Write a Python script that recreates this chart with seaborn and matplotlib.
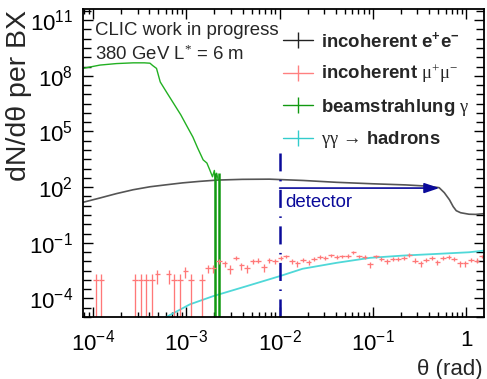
import numpy as np
import pandas as pd
import matplotlib
matplotlib.use("Agg")
import matplotlib.pyplot as plt
from matplotlib.lines import Line2D
from matplotlib.ticker import FixedLocator, FixedFormatter, NullFormatter
import seaborn as sns

# ---------------------------------------------------------------------------
# Data: dN/dtheta per bunch crossing, stored as log10(theta) / log10(rate)
# ---------------------------------------------------------------------------
# incoherent e+e- pairs
ee_logtheta = [-4.11, -3.93, -3.75, -3.57, -3.39, -3.21, -3.04, -2.86, -2.67, -2.40,
               -2.11, -1.75, -1.39, -1.00, -0.65, -0.40, -0.29, -0.235, -0.18, -0.14,
               -0.107, -0.06, 0.03, 0.10, 0.17, 0.19]
ee_lograte = [1.18, 1.41, 1.65, 1.86, 2.02, 2.13, 2.23, 2.31, 2.38, 2.42,
              2.43, 2.36, 2.26, 2.18, 2.12, 2.05, 1.97, 1.70, 1.32, 0.95,
              0.73, 0.62, 0.54, 0.53, 0.56, 0.57]

# beamstrahlung photons
bs_logtheta = [-4.11, -3.925, -3.75, -3.57, -3.45, -3.39, -3.36, -3.32, -3.28, -3.21,
               -3.14, -3.06, -2.99, -2.93, -2.88, -2.82, -2.78, -2.75, -2.72, -2.70,
               -2.69, -2.675, -2.66]
bs_lograte = [8.40, 8.58, 8.66, 8.70, 8.70, 8.68, 8.55, 8.40, 7.67, 7.10,
              6.54, 5.90, 5.25, 4.70, 4.12, 3.47, 3.30, 2.94, 2.56, 2.90,
              2.45, 2.75, 2.40]
# last beamstrahlung bins with errors reaching zero
bs_spike_logtheta = [-2.69, -2.647]
bs_spike_rate = [280.0, 280.0]

# incoherent mu+mu- pairs, 70 log bins in theta (None = empty bin)
mumu_rate = [1.0e-3, 1.0e-3, None, None, None, None, None, 1.0e-3, 1.0e-3, 1.0e-3,
             1.0e-3, 2.0e-3, None, 2.0e-3, 1.0e-3, 1.0e-3, 3.0e-3, 1.0e-3, None, 1.0e-3,
             4.5e-3, 4.5e-3, 1.0e-2, 8.0e-3, 4.0e-3, 1.5e-2, 6.0e-3, 4.5e-3, 1.0e-2, 1.1e-2,
             5.0e-3, 1.2e-2, 1.0e-2, 1.5e-2, 1.9e-2, 1.0e-2, 8.0e-3, 1.25e-2, 9.0e-3, 1.4e-2,
             1.7e-2, 1.5e-2, 2.1e-2, 1.7e-2, 1.9e-2, 2.0e-2, 3.1e-2, 1.9e-2, 1.75e-2, 7.0e-3,
             1.9e-2, 1.4e-2, 1.0e-2, 1.4e-2, 1.4e-2, 1.5e-2, 2.3e-2, 1.1e-2, 8.0e-3, 1.25e-2,
             1.5e-2, 9.0e-3, 1.5e-2, 1.75e-2, 1.4e-2, 8.0e-3, 8.0e-3, 1.25e-2, 1.1e-2, 1.9e-2]
mumu_log_edges = (-4.0, 0.2)
mumu_unit = 1.0e-3          # rate carried by a single event

# gamma gamma -> hadrons
had_logtheta = [-3.23, -2.963, -2.713, -2.356, -2.0, -1.754, -1.39, -1.03, -0.68, -0.32,
                0.032, 0.19]
had_lograte = [-5.04, -4.32, -3.876, -3.34, -2.80, -2.40, -2.08, -1.81, -1.69, -1.60,
               -1.51, -1.42]

# detector acceptance marker
det_theta = 0.01
det_arrow_end = 0.514
det_arrow_rate = 89.0
det_line_top = 7.0e3

legend_labels = ["incoherent e$\\mathbf{^{+}}$e$\\mathbf{^{-}}$",
                 "incoherent $\\mathrm{\\mu^{+}\\mu^{-}}$",
                 "beamstrahlung $\\mathrm{\\gamma}$",
                 "$\\mathrm{\\gamma\\gamma\\,\\rightarrow\\,}$hadrons"]
x_ticks = [1e-4, 1e-3, 1e-2, 1e-1, 1.0]
x_tick_labels = ["$\\mathdefault{10^{-4}}$", "$\\mathdefault{10^{-3}}$",
                 "$\\mathdefault{10^{-2}}$", "$\\mathdefault{10^{-1}}$", "1"]
y_ticks = [1e-4, 1e-1, 1e2, 1e5, 1e8, 1e11]
y_tick_labels = ["$\\mathdefault{10^{-4}}$", "$\\mathdefault{10^{-1}}$",
                 "$\\mathdefault{10^{2}}$", "$\\mathdefault{10^{5}}$",
                 "$\\mathdefault{10^{8}}$", "$\\mathdefault{10^{11}}$"]

# ---------------------------------------------------------------------------
sns.set_theme(style="ticks")
plt.rcParams["font.family"] = ["Liberation Sans", "DejaVu Sans"]
plt.rcParams["mathtext.fontset"] = "custom"
plt.rcParams["mathtext.rm"] = "Liberation Serif"
plt.rcParams["mathtext.it"] = "Liberation Serif:italic"
plt.rcParams["mathtext.bf"] = "Liberation Sans:bold"
plt.rcParams["lines.scale_dashes"] = False

W, H = 487, 379
fig = plt.figure(figsize=(W / 100, H / 100), dpi=100)
fig.patch.set_facecolor("white")
ax = fig.add_axes([83 / W, 1 - 317 / H, 401 / W, 308 / H])
ax.set_facecolor("white")


def fx(px):
    return px / W


def fy(py):
    return 1 - py / H


c_ee = "#555555"
c_mumu = "#ff7878"
c_bs = "#22b022"
c_bs_dark = "#119911"
c_had = "#4fd8d8"
c_det = "#0a0a9a"

ee = pd.DataFrame({"theta": 10 ** np.array(ee_logtheta), "rate": 10 ** np.array(ee_lograte)})
bs = pd.DataFrame({"theta": 10 ** np.array(bs_logtheta), "rate": 10 ** np.array(bs_lograte)})
had = pd.DataFrame({"theta": 10 ** np.array(had_logtheta), "rate": 10 ** np.array(had_lograte)})

sns.lineplot(data=ee, x="theta", y="rate", ax=ax, color=c_ee, lw=1.2,
             estimator=None, sort=False, legend=False)
sns.lineplot(data=bs, x="theta", y="rate", ax=ax, color=c_bs, lw=1.0,
             estimator=None, sort=False, legend=False)
sns.lineplot(data=had, x="theta", y="rate", ax=ax, color=c_had, lw=1.3,
             estimator=None, sort=False, legend=False)

# beamstrahlung bins whose error bars reach down to zero
spike_x = 10 ** np.array(bs_spike_logtheta)
spike_y = np.array(bs_spike_rate)
ax.errorbar(spike_x, spike_y, yerr=[spike_y, spike_y], fmt="none",
            ecolor=c_bs_dark, elinewidth=1.8, capsize=0)

# mu+mu- histogram drawn as error crosses (Poisson errors)
edges = np.logspace(mumu_log_edges[0], mumu_log_edges[1], len(mumu_rate) + 1)
centers = np.sqrt(edges[:-1] * edges[1:])
keep = [i for i, v in enumerate(mumu_rate) if v is not None]
mx = centers[keep]
my = np.array([mumu_rate[i] for i in keep])
merr = np.sqrt(my * mumu_unit)
ax.errorbar(mx, my, xerr=[mx - edges[:-1][keep], edges[1:][keep] - mx],
            yerr=[np.minimum(merr, my), merr], fmt="none",
            ecolor=c_mumu, elinewidth=0.95, capsize=0)

ax.set_xscale("log")
ax.set_yscale("log")
ax.set_xlim(7.8e-5, 1.55)
ax.set_ylim(1e-5, 4e11)

# detector acceptance: dash-dot boundary and arrow
ax.plot([det_theta, det_theta], [1e-5, det_line_top], color=c_det, lw=1.8,
        dashes=[13, 6.1, 1.1, 6.1], solid_capstyle="butt", dash_capstyle="butt")
ax.annotate("", xy=(det_arrow_end, det_arrow_rate), xytext=(det_theta, det_arrow_rate),
            arrowprops=dict(arrowstyle="-|>,head_length=0.65,head_width=0.22",
                            color=c_det, lw=1.2, shrinkA=0, shrinkB=0,
                            mutation_scale=14))
fig.text(fx(285), fy(206.7), "detector", color=c_det, fontsize=13.4,
         ha="left", va="baseline")

# ticks
ax.xaxis.set_major_locator(FixedLocator(x_ticks))
ax.xaxis.set_major_formatter(FixedFormatter(x_tick_labels))
minor_x = [m * 10.0 ** e for e in range(-5, 1) for m in range(2, 10)]
ax.xaxis.set_minor_locator(FixedLocator(minor_x))
ax.xaxis.set_minor_formatter(NullFormatter())
ax.yaxis.set_major_locator(FixedLocator(y_ticks))
ax.yaxis.set_major_formatter(FixedFormatter(y_tick_labels))
ax.yaxis.set_minor_locator(FixedLocator(10 ** np.arange(-5, 12, 0.5)))
ax.yaxis.set_minor_formatter(NullFormatter())
ax.tick_params(which="both", direction="in", top=True, right=True, color="black",
               labelsize=16, labelcolor="black")
ax.tick_params(axis="x", which="major", length=7, width=1.0, pad=9)
ax.tick_params(axis="x", which="minor", length=3.5, width=1.0)
ax.tick_params(axis="y", which="major", length=7, width=1.0, pad=7)
ax.tick_params(axis="y", which="minor", length=6, width=1.0)
for s in ax.spines.values():
    s.set_color("black")
    s.set_linewidth(1.3)
    s.set_visible(True)
ax.set_xlabel("")
ax.set_ylabel("")

fig.text(fx(483), fy(375), "θ (rad)", fontsize=16, ha="right", va="baseline")
fig.text(fx(19), fy(10), "dN/dθ per BX", fontsize=20.5, rotation=90,
         ha="center", va="top")

fig.text(fx(95), fy(35), "CLIC work in progress", fontsize=13.4, ha="left", va="baseline")
fig.text(fx(95), fy(59.5), "380 GeV L$^{*}$ = 6 m", fontsize=13.4, ha="left", va="baseline")

handles = [Line2D([], [], color=c, lw=1.0, marker="|", markersize=12, markeredgewidth=1.0)
           for c in ["#222222", "#ff8080", "#119911", "#33cccc"]]
ax.legend(handles, legend_labels, loc="upper left",
          bbox_to_anchor=(fx(283), fy(31)), bbox_transform=fig.transFigure,
          frameon=False, prop={"family": "Liberation Sans", "weight": "bold", "size": 13.4},
          handlelength=1.6, handletextpad=0.45, labelspacing=0.62,
          borderpad=0, borderaxespad=0)

fig.savefig("out.png", dpi=100)
